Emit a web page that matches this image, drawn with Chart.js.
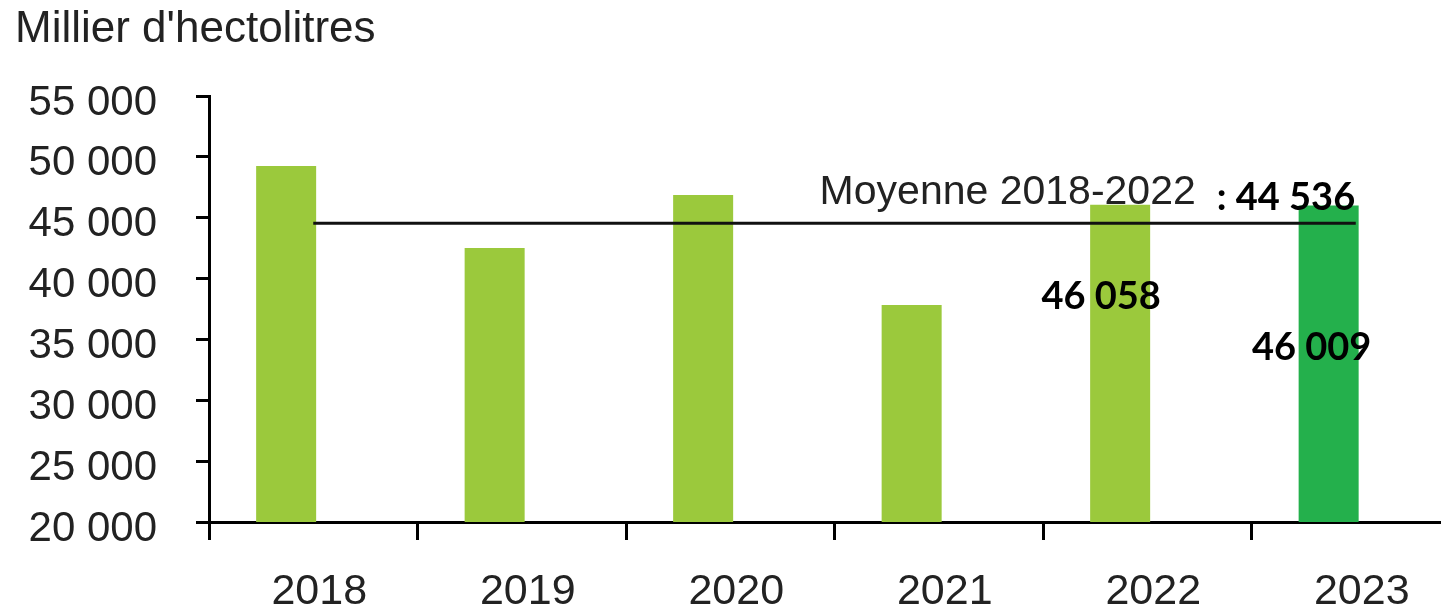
<!DOCTYPE html>
<html>
<head>
<meta charset="utf-8">
<script src="https://cdn.jsdelivr.net/npm/chart.js@4.4.1/dist/chart.umd.min.js"></script>
<style>
    html, body { margin: 0; padding: 0; background: #fff; overflow: hidden; }
    #wrap { width: 1460px; height: 610px; }
</style>
</head>
<body>
<div id="wrap"><canvas id="prodChart" width="1460" height="610"></canvas></div>
<script>
// data
const years = ['2018', '2019', '2020', '2021', '2022', '2023'];
const production = [49250, 42510, 46870, 37830, 46058, 46009];
const moyenne = [44536, 44536, 44536, 44536, 44536, 44536];
const spacer = [null, null, null, null, null, null];
const barColors = ['#9BC93C', '#9BC93C', '#9BC93C', '#9BC93C', '#9BC93C', '#24B04C'];
const valueLabels = ['', '', '', '', '46 058', '46 009'];
const yMin = 20000, yMax = 55000, yStep = 5000;
const titleText = "Millier d'hectolitres";
const moyenneText = 'Moyenne 2018-2022';

const fmt = v => String(v).replace(/\B(?=(\d{3})+(?!\d))/g, ' ');

Chart.defaults.font.family = '"Liberation Sans", Arial, sans-serif';
Chart.defaults.color = '#222';

// text written on the plot (average caption + the two value labels)
const annotations = {
    id: 'annotations',
    afterDatasetsDraw(chart, args, opts) {
        const ctx = chart.ctx;
        const yScale = chart.scales.y;
        const lineMeta = chart.getDatasetMeta(2);
        const last = lineMeta.data[lineMeta.data.length - 1];
        const yLine = yScale.getPixelForValue(moyenne[moyenne.length - 1]);

        ctx.save();
        ctx.fillStyle = '#222';
        ctx.font = '41px "Liberation Sans", Arial, sans-serif';
        ctx.textAlign = 'right';
        ctx.textBaseline = 'alphabetic';
        ctx.fillText(moyenneText, last.x - 160, yLine - 19);

        ctx.fillStyle = '#000';
        ctx.font = 'bold 38px Lato, sans-serif';
        ctx.textAlign = 'left';
        ctx.fillText(': ' + fmt(moyenne[moyenne.length - 1]), last.x - 139, yLine - 13);

        const barMeta = chart.getDatasetMeta(0);
        ctx.textAlign = 'center';
        ctx.textBaseline = 'middle';
        valueLabels.forEach((txt, i) => {
            if (!txt) return;
            const bar = barMeta.data[i];
            const off = opts.offsets[i] || {dx: 0, dy: 0};
            ctx.fillText(txt, bar.x + off.dx, bar.y + off.dy);
        });
        ctx.restore();
    }
};

const ctx = document.getElementById('prodChart').getContext('2d');
const prodChart = new Chart(ctx, {
    data: {
        labels: years,
        datasets: [{
            type: 'bar',
            label: 'Production',
            data: production,
            backgroundColor: barColors,
            categoryPercentage: 0.52,
            barPercentage: 1.107,
            order: 1
        }, {
            // empty slot, pushes the bars left inside their category
            type: 'bar',
            label: '',
            data: spacer,
            categoryPercentage: 0.52,
            barPercentage: 1.107,
            order: 1
        }, {
            type: 'line',
            label: 'Moyenne',
            data: moyenne,
            borderColor: '#111',
            borderWidth: 3,
            pointRadius: 0,
            fill: false,
            order: 0
        }]
    },
    options: {
        responsive: false,
        animation: false,
        layout: { padding: { left: 15, top: 0, right: 0, bottom: 0 } },
        scales: {
            x: {
                offset: true,
                grid: {
                    offset: true,
                    drawOnChartArea: false,
                    drawTicks: true,
                    tickLength: 18,
                    color: '#000',
                    lineWidth: 3
                },
                border: { display: true, color: '#000', width: 3 },
                ticks: {
                    font: { size: 43 },
                    color: '#222',
                    padding: 26,
                    labelOffset: 6,
                    maxRotation: 0
                },
                afterFit: (s) => { s.height = 88; }
            },
            y: {
                min: yMin,
                max: yMax,
                grid: {
                    drawOnChartArea: false,
                    drawTicks: true,
                    tickLength: 13,
                    color: '#000',
                    lineWidth: 3
                },
                border: { display: true, color: '#000', width: 3 },
                ticks: {
                    stepSize: yStep,
                    font: { size: 42 },
                    color: '#222',
                    padding: 39,
                    labelOffset: 7,
                    callback: (v) => fmt(v)
                },
                afterFit: (s) => { s.width = 194; }
            }
        },
        plugins: {
            legend: { display: false },
            tooltip: { enabled: false },
            title: {
                display: true,
                text: titleText,
                align: 'start',
                color: '#222',
                font: { size: 44, weight: 'normal' },
                padding: { top: 3, bottom: 40.2 }
            },
            annotations: {
                offsets: [null, null, null, null, {dx: -19, dy: 92}, {dx: -17, dy: 142}]
            }
        }
    },
    plugins: [annotations]
});
</script>
</body>
</html>
